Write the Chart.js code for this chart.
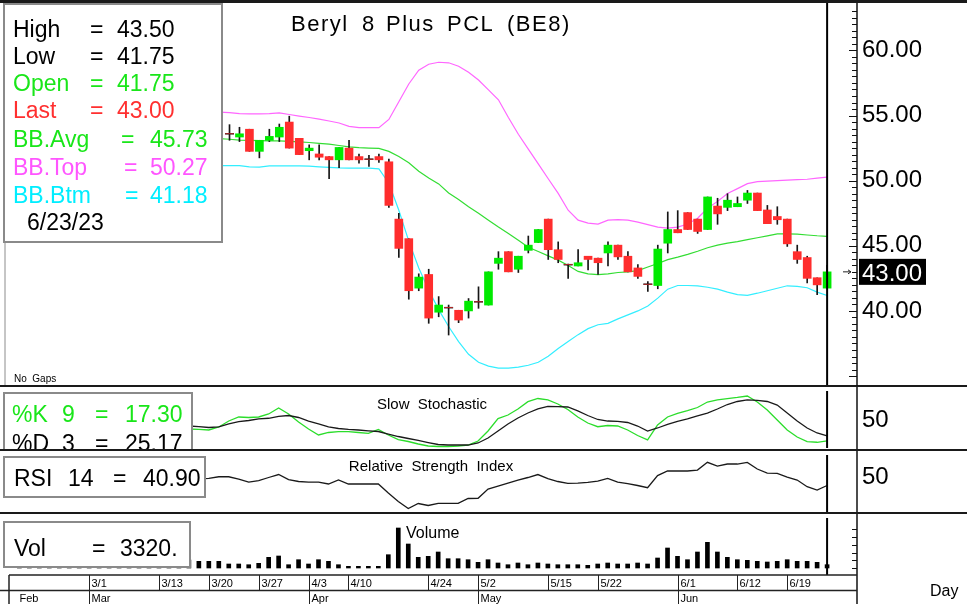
<!DOCTYPE html>
<html>
<head>
<meta charset="utf-8">
<title>Beryl 8 Plus PCL (BE8)</title>
<script src="https://cdn.jsdelivr.net/npm/chart.js@4.4.1/dist/chart.umd.min.js"></script>
<style>
  html, body { margin: 0; padding: 0; background: #fff; }
  #page { position: relative; width: 967px; height: 604px; overflow: hidden; background: #fff; }
  #page canvas { position: absolute; left: 0; }
</style>
</head>
<body>
<div id="page">
  <canvas id="priceChart" width="967" height="387" style="top:0"></canvas>
  <canvas id="stochChart" width="967" height="64" style="top:387px"></canvas>
  <canvas id="rsiChart" width="967" height="63" style="top:451px"></canvas>
  <canvas id="volChart" width="967" height="90" style="top:514px"></canvas>
</div>
<script>
// daily bars, index 0 = first candle right of the info box, index 60 = 6/23/23
const opens  = [53.6, 53.35, 53.95, 52.25, 53.1, 53.35, 54.5, 53.25, 52.3, 52.05,
                51.85, 51.6, 52.5, 51.85, 51.65, 51.85, 51.45, 47.05, 45.55, 41.75,
                42.8, 39.9, 40.25, 40.05, 40.0, 40.7, 40.45, 43.65, 44.55, 43.2,
                44.65, 45.25, 47.05, 44.7, 43.55, 43.45, 44.2, 44.05, 44.45, 45.05,
                44.2, 43.3, 42.05, 41.95, 45.2, 46.25, 47.55, 47.05, 46.25, 48.05,
                47.95, 48.0, 48.5, 49.05, 47.75, 47.25, 47.05, 44.55, 44.1, 42.55, 41.75];
const highs  = [54.3, 54.1, 53.95, 53.1, 53.95, 54.35, 54.95, 53.25, 52.75, 52.75,
                51.85, 52.55, 53.1, 52.05, 51.95, 52.05, 51.65, 47.5, 45.55, 42.85,
                43.2, 41.1, 40.45, 40.05, 40.95, 41.85, 43.0, 44.55, 44.55, 44.2,
                45.75, 46.25, 47.05, 45.3, 43.6, 44.7, 44.2, 44.05, 45.3, 45.05,
                44.55, 43.55, 42.25, 45.05, 47.6, 47.7, 47.55, 47.05, 48.75, 48.65,
                49.0, 48.75, 49.25, 49.05, 48.1, 48.0, 47.05, 45.05, 44.2, 42.55, 43.5];
const lows   = [53.1, 53.0, 52.25, 51.75, 53.0, 53.0, 52.5, 52.0, 51.6, 51.6,
                50.15, 51.0, 51.6, 51.35, 51.1, 51.4, 47.95, 44.1, 40.9, 41.55,
                39.05, 39.55, 38.15, 39.1, 39.45, 40.2, 40.45, 43.2, 43.0, 42.95,
                44.45, 45.25, 43.95, 43.7, 42.5, 43.45, 43.15, 42.8, 43.45, 43.95,
                43.0, 42.5, 41.5, 41.7, 44.45, 46.0, 46.25, 45.95, 46.25, 46.65,
                47.7, 48.0, 48.25, 47.7, 46.7, 46.65, 44.95, 43.65, 42.15, 41.25, 41.75];
const closes = [53.6, 53.6, 52.25, 53.1, 53.4, 54.1, 52.5, 52.0, 52.5, 51.8,
                51.6, 52.55, 51.6, 51.6, 51.65, 51.6, 48.1, 44.8, 41.55, 42.6,
                39.45, 40.45, 40.25, 39.3, 40.75, 40.7, 43.0, 44.05, 43.0, 44.2,
                45.05, 46.25, 44.7, 43.95, 43.55, 43.7, 43.95, 43.7, 45.05, 44.15,
                43.0, 42.65, 42.05, 44.75, 46.25, 46.0, 46.25, 46.1, 48.75, 47.45,
                48.5, 48.25, 49.05, 47.7, 46.7, 47.0, 45.15, 43.95, 42.5, 42.0, 43.0];

// Bollinger bands, first value at index -1
const bbStart = -1;
const bbTop = [55.27, 55.23, 55.15, 55.13, 55.13, 55.15, 55.20, 55.08, 54.96, 54.85,
               54.73, 54.58, 54.43, 54.17, 54.07, 54.07, 54.07, 54.70, 56.06, 57.42,
               58.48, 58.94, 59.09, 59.05, 58.79, 58.33, 57.73, 56.97, 56.21, 54.85,
               53.56, 52.42, 51.29, 50.15, 49.02, 47.73, 46.97, 46.74, 46.67, 46.97,
               47.01, 46.97, 46.82, 46.63, 46.44, 46.36, 46.44, 46.67, 47.12, 47.88,
               48.41, 49.02, 49.39, 49.77, 49.92, 49.96, 50.00, 50.04, 50.08, 50.11,
               50.19, 50.27];
const bbAvg = [53.23, 53.18, 53.12, 53.10, 53.08, 53.06, 53.05, 53.02, 52.98, 52.93,
               52.87, 52.80, 52.70, 52.60, 52.53, 52.50, 52.48, 52.25, 51.85, 51.38,
               50.72, 50.20, 49.75, 49.05, 48.55, 48.00, 47.50, 46.97, 46.44, 45.95,
               45.42, 44.89, 44.56, 44.23, 43.90, 43.48, 43.03, 42.85, 42.78, 42.85,
               42.95, 43.00, 43.10, 43.37, 43.64, 43.94, 44.13, 44.34, 44.58, 44.85,
               45.05, 45.20, 45.32, 45.47, 45.62, 45.76, 45.91, 45.91, 45.89, 45.83,
               45.77, 45.73];
const bbBtm = [51.16, 51.16, 51.16, 51.06, 51.04, 51.14, 51.14, 51.14, 51.14, 51.11,
               51.06, 51.02, 50.98, 50.96, 50.96, 50.96, 50.91, 49.80, 47.73, 45.36,
               43.30, 41.60, 40.10, 38.80, 37.65, 36.67, 36.06, 35.76, 35.61, 35.61,
               35.68, 35.83, 36.06, 36.52, 37.12, 37.65, 38.18, 38.64, 38.94, 39.05,
               39.39, 39.70, 40.00, 40.38, 40.98, 41.67, 41.95, 41.95, 41.93, 41.82,
               41.67, 41.44, 41.25, 41.19, 41.36, 41.55, 41.74, 41.93, 41.89, 41.78,
               41.44, 41.18];

// slow stochastic, first value at index -4
const stochStart = -4;
const pctK = [35.9, 35.2, 34.4, 39.1, 48.4, 54.7, 53.9, 54.7, 59.4, 68.8,
              59.4, 46.9, 35.9, 26.6, 30.5, 31.7, 31.7, 30.5, 29.2, 35.2,
              26.6, 19.5, 16.4, 12.5, 9.4, 8.6, 8.6, 9.4, 10.9, 17.2,
              32.8, 52.3, 57.8, 67.2, 78.6, 83.6, 81.3, 75.0, 66.4, 54.7,
              45.3, 39.5, 41.4, 40.6, 34.4, 25.8, 18.8, 42.2, 54.7, 60.5,
              64.8, 69.5, 78.1, 81.3, 83.3, 85.2, 87.5, 78.1, 65.6, 50.0,
              34.4, 23.4, 16.1, 15.2, 17.3];
const pctD = [40.6, 39.5, 38.3, 39.1, 43.8, 47.3, 49.2, 51.6, 52.7, 55.5,
              57.0, 53.9, 48.4, 43.8, 39.1, 36.7, 35.2, 34.4, 33.1, 32.0,
              28.1, 24.2, 21.1, 18.0, 14.8, 11.7, 10.9, 10.9, 10.9, 14.1,
              21.9, 32.8, 43.8, 53.1, 60.9, 67.2, 71.1, 70.8, 70.3, 64.1,
              57.0, 50.8, 48.4, 47.7, 46.1, 40.6, 32.8, 37.5, 43.0, 47.7,
              51.6, 56.3, 60.9, 67.2, 74.2, 78.9, 81.3, 80.8, 78.9, 73.4,
              60.9, 48.4, 37.5, 29.7, 25.17];

// RSI 14, first value at index -3
const rsiStart = -3;
const rsi14 = [48.0, 48.6, 50.3, 50.3, 47.8, 44.6, 46.2, 49.5, 52.7, 47.3, 45.2, 44.6,
               44.6, 42.5, 46.8, 42.5, 42.5, 42.5, 42.5, 32.8, 23.7, 16.1, 21.5,
               19.4, 21.7, 21.7, 21.7, 26.9, 27.1, 37.1, 40.3, 43.5, 46.8,
               49.5, 52.7, 48.4, 45.2, 43.2, 43.5, 44.3, 45.7, 48.6, 44.6,
               43.0, 40.9, 38.5, 51.6, 56.5, 56.5, 56.5, 57.5, 65.8, 61.8,
               64.0, 64.0, 65.8, 58.6, 54.3, 54.0, 50.0, 46.8, 39.6, 36.0, 40.9];

// volume, first value at index -21
const volStart = -21;
const volume = [6000, 6000, 6000, 6000, 6000, 6000, 6000, 6000, 6000, 6000,
                6000, 6000, 6000, 6000, 6000, 6000, 6000,
                8000, 6700, 6700, 6700, 4000, 4000, 3300, 4700, 10700, 12000,
                3300, 8300, 4000, 8300, 6700, 3300, 1700, 1700, 1700, 1700,
                13300, 40000, 24000, 10700, 11700, 16000, 9300, 9300, 8300, 5700,
                8300, 5000, 3300, 5000, 3300, 5000, 4000, 3300, 3300, 3300,
                2700, 4000, 5000, 4000, 4000, 5000, 4000, 10000, 20000, 11700,
                8300, 16000, 25700, 16000, 10700, 8300, 7700, 6700, 6000, 6700,
                8300, 6700, 6700, 5700, 3320];

const dayTicks = ['3/1', '3/13', '3/20', '3/27', '4/3', '4/10', '4/24', '5/2', '5/15', '5/22', '6/1', '6/12', '6/19'];
const dayTickIdx = [-14, -7, -2, 3, 8, 12, 20, 25, 32, 37, 45, 51, 56];
const monthTicks = ['Feb', 'Mar', 'Apr', 'May', 'Jun'];
const monthTickIdx = [-21.2, -14, 8, 25, 45];
const titleWords = ['Beryl', '8', 'Plus', 'PCL', '(BE8)'];

const FONT = '"Liberation Sans", Arial, sans-serif';
const W = 967;
const AXIS_X = 857;
const LAST = 60;
const UP = '#00ea00';
const DOWN = '#ff2d2d';

function vline(ctx, x, y1, y2, color, w) {
    ctx.strokeStyle = color; ctx.lineWidth = w;
    ctx.beginPath(); ctx.moveTo(x, y1); ctx.lineTo(x, y2); ctx.stroke();
}
function hline(ctx, x1, x2, y, color, w) {
    ctx.strokeStyle = color; ctx.lineWidth = w;
    ctx.beginPath(); ctx.moveTo(x1, y); ctx.lineTo(x2, y); ctx.stroke();
}
function txt(ctx, s, x, y, color, size, align, family) {
    ctx.fillStyle = color;
    ctx.font = size + 'px ' + (family || FONT);
    ctx.textAlign = align || 'left';
    ctx.textBaseline = 'alphabetic';
    ctx.fillText(s, x, y);
}
function box(ctx, x, y, w, h) {
    ctx.fillStyle = '#fff';
    ctx.fillRect(x, y, w, h);
    ctx.strokeStyle = '#8a8a8a'; ctx.lineWidth = 2;
    ctx.strokeRect(x + 1, y + 1, w - 2, h - 2);
}

function xAxis() {
    return { type: 'linear', min: -22.44, max: 63.0, display: false, offset: false };
}
function rightAxis(min, max, labelled) {
    return {
        position: 'right', min: min, max: max,
        grid: { display: false, drawTicks: false },
        border: { display: false },
        ticks: {
            display: labelled, padding: 5, color: '#000',
            font: { family: FONT, size: 24 }
        },
        afterFit(s) { s.width = W - AXIS_X; s.paddingTop = 0; s.paddingBottom = 0; }
    };
}
function baseOptions(padding) {
    return {
        responsive: false, animation: false, events: [],
        layout: { padding: padding },
        plugins: { legend: { display: false }, tooltip: { enabled: false } }
    };
}
function series(values, start) {
    return values.map((v, k) => ({ x: k + start, y: v }));
}
function lineSet(values, start, color, width) {
    return { type: 'line', data: series(values, start), borderColor: color, borderWidth: width || 1.2,
             pointRadius: 0, tension: 0, order: 2 };
}

// ---------- price panel ----------
const idx = opens.map((_, i) => i);
const dojis = idx.filter(i => opens[i] === closes[i]).map(i => ({ x: i, y: closes[i] }));

const priceDecor = {
    id: 'priceDecor',
    afterDraw(chart) {
        const { ctx, scales: { x, y } } = chart;
        ctx.save();
        ctx.fillStyle = '#1a1a1a';
        ctx.fillRect(0, 0, W, 3);
        ctx.fillRect(0, 385, W, 2);
        vline(ctx, 5, 3, 385, '#8c8c8c', 1);
        vline(ctx, AXIS_X, 3, 386, '#111', 1.5);
        for (let v = 35; v <= 63; v += 0.5) {
            const py = Math.round(y.getPixelForValue(v)) + 0.5;
            hline(ctx, AXIS_X - (v % 5 === 0 ? 8 : 5), AXIS_X, py, '#111', 1);
        }
        vline(ctx, x.getPixelForValue(LAST), 3, 385, '#000', 2);

        // info box
        box(ctx, 3, 3, 220, 240);
        const rows = [
            ['High', '=', '43.50', '#000', 90, 117],
            ['Low', '=', '41.75', '#000', 90, 117],
            ['Open', '=', '41.75', '#19e619', 90, 117],
            ['Last', '=', '43.00', '#ff2f2f', 90, 117],
            ['BB.Avg', '=', '45.73', '#19e619', 121, 150],
            ['BB.Top', '=', '50.27', '#ff55ff', 124, 150],
            ['BB.Btm', '=', '41.18', '#00eeff', 125, 150]
        ];
        const base = [36.7, 63.5, 90.7, 118.3, 146.5, 174.5, 202.5];
        rows.forEach((r, k) => {
            txt(ctx, r[0], 13, base[k], r[3], 23);
            txt(ctx, r[1], r[4], base[k], r[3], 23);
            txt(ctx, r[2], r[5], base[k], r[3], 23);
        });
        txt(ctx, '6/23/23', 27, 230, '#000', 23);

        // title, word by word
        const wordX = [291, 362, 386, 447, 507];
        if ('letterSpacing' in ctx) ctx.letterSpacing = '1.5px';
        titleWords.forEach((w, k) => txt(ctx, w, wordX[k], 31, '#000', 22));
        if ('letterSpacing' in ctx) ctx.letterSpacing = '0px';

        txt(ctx, 'No  Gaps', 14, 382, '#000', 10);

        // last price tag
        const ly = y.getPixelForValue(43.0);
        ctx.fillStyle = '#000';
        ctx.fillRect(859, ly - 13, 67, 26);
        txt(ctx, '43.00', 862, ly + 9, '#fff', 24);
        hline(ctx, 843, 851, ly, '#222', 1);
        ctx.beginPath(); ctx.moveTo(851, ly); ctx.lineTo(848, ly - 2); ctx.moveTo(851, ly); ctx.lineTo(848, ly + 2); ctx.stroke();
        ctx.restore();
    }
};

const priceAxis = rightAxis(34.62, 63.41, true);
priceAxis.ticks.stepSize = 5;
priceAxis.ticks.includeBounds = false;
priceAxis.ticks.callback = v => (v >= 40 && v <= 60) ? v.toFixed(2) : '';

new Chart(document.getElementById('priceChart'), {
    type: 'bar',
    data: {
        datasets: [
            { type: 'bar', data: idx.map(i => ({ x: i, y: [opens[i], closes[i]] })),
              backgroundColor: c => closes[c.dataIndex] > opens[c.dataIndex] ? UP : DOWN,
              barThickness: 8, grouped: false, order: 0 },
            { type: 'bar', data: idx.map(i => ({ x: i, y: [lows[i], highs[i]] })),
              backgroundColor: '#161616', barThickness: 1, grouped: false, order: 1 },
            { type: 'line', data: dojis, showLine: false, pointStyle: 'line', pointRadius: 4.5,
              pointBorderWidth: 1.5, pointBorderColor: '#161616', borderColor: '#161616', order: 0 },
            lineSet(bbTop, bbStart, '#ff66ff'),
            lineSet(bbAvg, bbStart, '#33dd33'),
            lineSet(bbBtm, bbStart, '#33eeff')
        ]
    },
    options: Object.assign(baseOptions({ left: 5, top: 5, right: 0, bottom: 2 }), {
        scales: { x: xAxis(), y: priceAxis }
    }),
    plugins: [priceDecor]
});

// ---------- lower panels ----------
function panelDecor(id, draw) {
    return {
        id: id,
        afterDraw(chart) {
            const { ctx, scales: { x } } = chart;
            ctx.save();
            vline(ctx, AXIS_X, 0, chart.height, '#111', 1.5);
            vline(ctx, x.getPixelForValue(LAST), chart.chartArea.top, chart.chartArea.bottom, '#000', 2);
            draw(chart, ctx);
            ctx.restore();
        }
    };
}
function fiftyOnly(axis) {
    axis.afterBuildTicks = s => { s.ticks = [{ value: 50 }]; };
    return axis;
}

new Chart(document.getElementById('stochChart'), {
    type: 'line',
    data: {
        datasets: [
            lineSet(pctD, stochStart, '#1a1a1a', 1.3),
            lineSet(pctK, stochStart, '#2bdd2b', 1.3)
        ]
    },
    options: Object.assign(baseOptions({ left: 5, top: 4, right: 0, bottom: 3 }), {
        scales: { x: xAxis(), y: fiftyOnly(rightAxis(6.25, 95.3, true)) }
    }),
    plugins: [panelDecor('stochDecor', (chart, ctx) => {
        ctx.fillStyle = '#1a1a1a';
        ctx.fillRect(0, 62, W, 2);
        txt(ctx, 'Slow  Stochastic', 432, 22, '#000', 15, 'center');
        box(ctx, 3, 5, 190, 62);
        txt(ctx, '%K', 12, 35, '#19e619', 23);
        txt(ctx, '9', 62, 35, '#19e619', 23);
        txt(ctx, '=', 95, 35, '#19e619', 23);
        txt(ctx, '17.30', 125, 35, '#19e619', 23);
        txt(ctx, '%D', 12, 64, '#000', 23);
        txt(ctx, '3', 62, 64, '#000', 23);
        txt(ctx, '=', 95, 64, '#000', 23);
        txt(ctx, '25.17', 125, 64, '#000', 23);
        ctx.fillStyle = '#1a1a1a';
        ctx.fillRect(0, 62, W, 2);
    })]
});

new Chart(document.getElementById('rsiChart'), {
    type: 'line',
    data: { datasets: [lineSet(rsi14, rsiStart, '#1a1a1a', 1.3)] },
    options: Object.assign(baseOptions({ left: 5, top: 4, right: 0, bottom: 2 }), {
        scales: { x: xAxis(), y: fiftyOnly(rightAxis(12.4, 73.7, true)) }
    }),
    plugins: [panelDecor('rsiDecor', (chart, ctx) => {
        ctx.fillStyle = '#1a1a1a';
        ctx.fillRect(0, 61, W, 2);
        txt(ctx, 'Relative  Strength  Index', 431, 20, '#000', 15, 'center');
        box(ctx, 3, 5, 203, 42);
        txt(ctx, 'RSI', 14, 35, '#000', 23);
        txt(ctx, '14', 68, 35, '#000', 23);
        txt(ctx, '=', 113, 35, '#000', 23);
        txt(ctx, '40.90', 143, 35, '#000', 23);
    })]
});

new Chart(document.getElementById('volChart'), {
    type: 'bar',
    data: {
        datasets: [{ data: series(volume, volStart), backgroundColor: '#000', barThickness: 4, grouped: false }]
    },
    options: Object.assign(baseOptions({ left: 5, top: 4, right: 0, bottom: 29 }), {
        scales: { x: xAxis(), y: rightAxis(-7000, 50000, false) }
    }),
    plugins: [panelDecor('volDecor', (chart, ctx) => {
        const { x, y } = chart.scales;
        for (let k = 0; k <= 5; k++) {
            hline(ctx, AXIS_X - 5, AXIS_X, Math.round(y.getPixelForValue(k * 7700)) + 0.5, '#111', 1);
        }
        txt(ctx, 'Volume', 406, 24, '#000', 16);
        box(ctx, 3, 7, 188, 47);
        txt(ctx, 'Vol', 14, 42, '#000', 23);
        txt(ctx, '=', 92, 42, '#000', 23);
        txt(ctx, '3320.', 120, 42, '#000', 23);

        // date scale
        hline(ctx, 9, AXIS_X, 61, '#222', 1.5);
        hline(ctx, 0, AXIS_X, 76.5, '#222', 1.5);
        vline(ctx, 9, 61, 90, '#222', 1.5);
        const small = '"Liberation Sans Narrow", "Arial Narrow", "Liberation Sans", sans-serif';
        dayTicks.forEach((d, k) => {
            const px = Math.round(x.getPixelForValue(dayTickIdx[k])) + 0.5;
            vline(ctx, px, 61, 76, '#222', 1);
            txt(ctx, d, px + 2, 73, '#000', 11, 'left', small);
        });
        monthTicks.forEach((m, k) => {
            const px = Math.round(x.getPixelForValue(monthTickIdx[k])) + 0.5;
            if (k > 0) vline(ctx, px, 76, 90, '#222', 1);
            txt(ctx, m, px + 2, 88, '#000', 11, 'left', small);
        });
        txt(ctx, 'Day', 930, 82, '#000', 16);
    })]
});
</script>
</body>
</html>
